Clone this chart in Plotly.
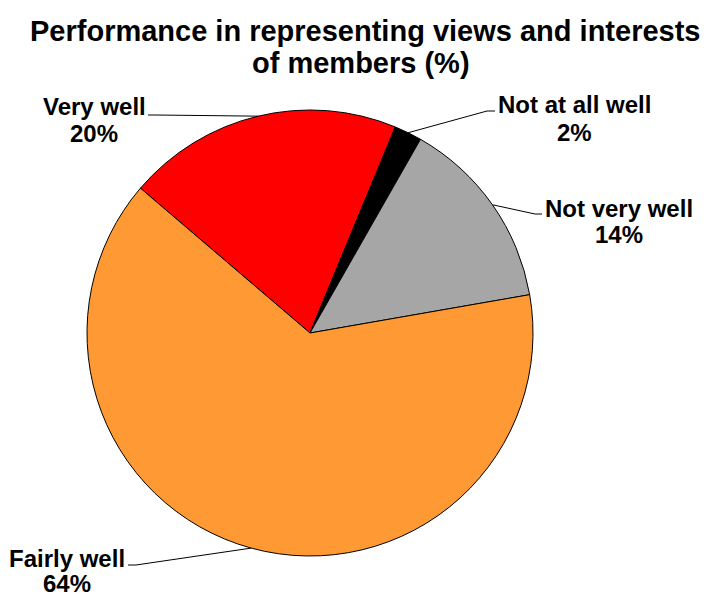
import math
import plotly.graph_objects as go

# Survey shares, clockwise from the upper-left boundary
categories = ["Very well", "Not at all well", "Not very well", "Fairly well"]
shares = [20, 2, 14, 64]
colors = ["#FF0000", "#000000", "#A6A6A6", "#FF9933"]
title_lines = ["Performance in representing views and interests", "of members (%)"]

W, H = 708, 597
CX, CY, R = 310, 333, 223          # pie centre and radius in pixels
START = -49.5                      # first slice boundary, degrees clockwise from 12 o'clock
FONT = "Liberation Sans"

# Title line centres in pixels
TITLE_POS = [(365, 31), (361, 63)]

# Label layout in pixels: name centre, value centre, tail of leader line, knee offset
LABEL_LAYOUT = {
    "Very well":       dict(name=(94, 107),  value=(94, 133),  tail=(148, 115), knee=8),
    "Not at all well": dict(name=(574, 105), value=(574, 132), tail=(495, 111), knee=-8),
    "Not very well":   dict(name=(619, 208), value=(619, 235), tail=(542, 214), knee=-7),
    "Fairly well":     dict(name=(67, 558),  value=(67, 583),  tail=(128, 565), knee=8),
}


def px(x, y):
    return x / W, 1 - y / H


fig = go.Figure(go.Pie(
    labels=categories,
    values=shares,
    sort=False,
    direction="clockwise",
    rotation=START,
    marker=dict(colors=colors, line=dict(color="black", width=1)),
    textinfo="none",
    hoverinfo="label+percent",
    showlegend=False,
    domain=dict(x=[(CX - R) / W, (CX + R) / W],
                y=[(H - CY - R) / H, (H - CY + R) / H]),
))

annotations = []
shapes = []

for line, pos in zip(title_lines, TITLE_POS):
    ax, ay = px(*pos)
    annotations.append(dict(text=line, x=ax, y=ay, xref="paper", yref="paper",
                            xanchor="center", yanchor="middle", showarrow=False,
                            font=dict(family=FONT, size=29, color="black",
                                      weight="bold")))

total = sum(shares)
cum = 0
for cat, val in zip(categories, shares):
    mid = math.radians(START + 360 * (cum + val / 2) / total)
    cum += val
    ex, ey = CX + R * math.sin(mid), CY - R * math.cos(mid)
    lay = LABEL_LAYOUT[cat]
    tx, ty = lay["tail"]
    kx, ky = tx + lay["knee"], ty
    for (x0, y0), (x1, y1) in [((ex, ey), (kx, ky)), ((kx, ky), (tx, ty))]:
        a0, b0 = px(x0, y0)
        a1, b1 = px(x1, y1)
        shapes.append(dict(type="line", xref="paper", yref="paper",
                           x0=a0, y0=b0, x1=a1, y1=b1,
                           line=dict(color="black", width=1)))
    for key, txt in (("name", cat), ("value", f"{val}%")):
        ax, ay = px(*lay[key])
        annotations.append(dict(text=txt, x=ax, y=ay, xref="paper", yref="paper",
                                xanchor="center", yanchor="middle", showarrow=False,
                                font=dict(family=FONT, size=24, color="black",
                                          weight="bold")))

fig.update_layout(
    width=W, height=H,
    margin=dict(l=0, r=0, t=0, b=0),
    paper_bgcolor="white",
    plot_bgcolor="white",
    annotations=annotations,
    shapes=shapes,
)

fig.write_html("out.html")
